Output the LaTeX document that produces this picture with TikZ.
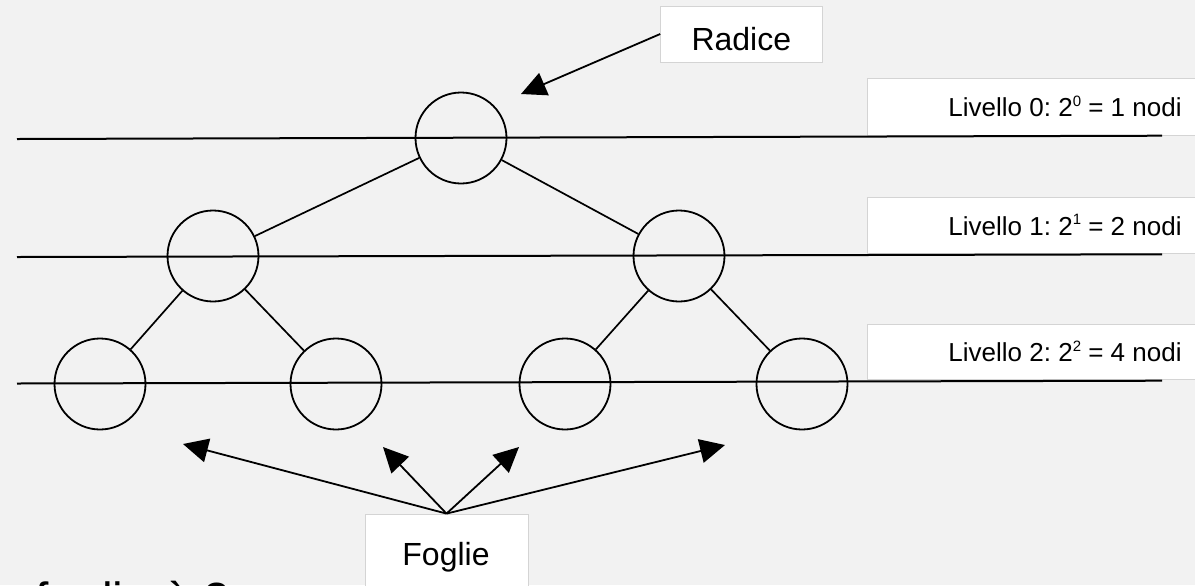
\documentclass[tikz,border=0pt]{standalone}
\usepackage{fontspec}
\setmainfont{Liberation Sans}
\usetikzlibrary{arrows.meta}
\definecolor{bg}{RGB}{242,242,242}
\definecolor{boxline}{RGB}{212,212,212}
\newcommand{\supnum}[1]{\raisebox{5.3pt}{\fontsize{7.5}{8}\selectfont #1}}
\frenchspacing
\begin{document}
\begin{tikzpicture}[x=0.5pt,y=-0.5pt,
  treenode/.style={draw=black, line width=0.9pt, circle, minimum size=45.5pt, inner sep=0pt},
  edge/.style={line width=0.85pt},
  levelline/.style={line width=1pt},
  labelbox/.style={draw=boxline, fill=white, line width=0.4pt, rectangle, inner sep=0pt},
  labeltext/.style={font=\fontsize{13}{15}\selectfont, anchor=base east, inner sep=0pt},
  calltext/.style={font=\fontsize{16}{19}\selectfont, anchor=base, inner sep=0pt},
  pointer/.style={line width=0.9pt, -{Triangle[length=12.5pt,width=12pt]}},
]
\fill[bg] (0,0) rectangle (1195,585);
\useasboundingbox (0,0) rectangle (1195,585);

% level label boxes
\node[labelbox, minimum width=166.5pt, minimum height=28.5pt] (lb0) at (1033.5,106.5) {};
\node[labelbox, minimum width=166.5pt, minimum height=28pt] (lb1) at (1033.5,225) {};
\node[labelbox, minimum width=166.5pt, minimum height=27.5pt] (lb2) at (1033.5,351.5) {};
\node[labeltext] (lt0) at (1182,116.7) {Livello 0: 2\supnum{0} = 1 nodi};
\node[labeltext] (lt1) at (1182,235) {Livello 1: 2\supnum{1} = 2 nodi};
\node[labeltext] (lt2) at (1182,361.7) {Livello 2: 2\supnum{2} = 4 nodi};

% level lines
\coordinate (l0a) at (17,139);   \coordinate (l0b) at (1162,135.7);
\coordinate (l1a) at (17,257);   \coordinate (l1b) at (1162,254.3);
\coordinate (l2a) at (17,383.5); \coordinate (l2b) at (1162,380.7);
\draw[levelline] (l0a) -- (l0b);
\draw[levelline] (l1a) -- (l1b);
\draw[levelline] (l2a) -- (l2b);

% tree
\node[treenode] (root) at (461,138) {};
\node[treenode] (na) at (213,256) {};
\node[treenode] (nb) at (679,256) {};
\node[treenode] (la) at (100,384) {};
\node[treenode] (lbb) at (336,384) {};
\node[treenode] (lc) at (565,384) {};
\node[treenode] (ld) at (802,384) {};
\draw[edge] (root) -- (na);
\draw[edge] (root) -- (nb);
\draw[edge] (na) -- (la);
\draw[edge] (na) -- (lbb);
\draw[edge] (nb) -- (lc);
\draw[edge] (nb) -- (ld);

% Radice callout
\node[labelbox, minimum width=80.7pt, minimum height=28pt] (radicebox) at (741.3,34) {};
\node[calltext] (radicetxt) at (741.3,50) {Radice};
\coordinate (rtip) at (521,94);
\draw[pointer] (radicebox.west) -- (rtip);

% Foglie callout
\node[labelbox, minimum width=81.5pt, minimum height=43pt] (fogliebox) at (446.5,557) {};
\node[calltext] (foglietxt) at (446,565) {Foglie};
\coordinate (ft1) at (183,444);
\coordinate (ft2) at (383,447);
\coordinate (ft3) at (519,447);
\coordinate (ft4) at (725,445);
\draw[pointer] (fogliebox.north) -- (ft1);
\draw[pointer] (fogliebox.north) -- (ft2);
\draw[pointer] (fogliebox.north) -- (ft3);
\draw[pointer] (fogliebox.north) -- (ft4);

% cut-off text at the bottom (cut by the picture's lower edge, as in the reference)
\begin{scope}
\clip (0,0) rectangle (1195,585);
\node[anchor=north west, inner sep=0pt, font=\fontsize{24}{28}\selectfont] (bottomtxt) at (35,580.5) {foglie è 2};
\end{scope}
\end{tikzpicture}
\end{document}
